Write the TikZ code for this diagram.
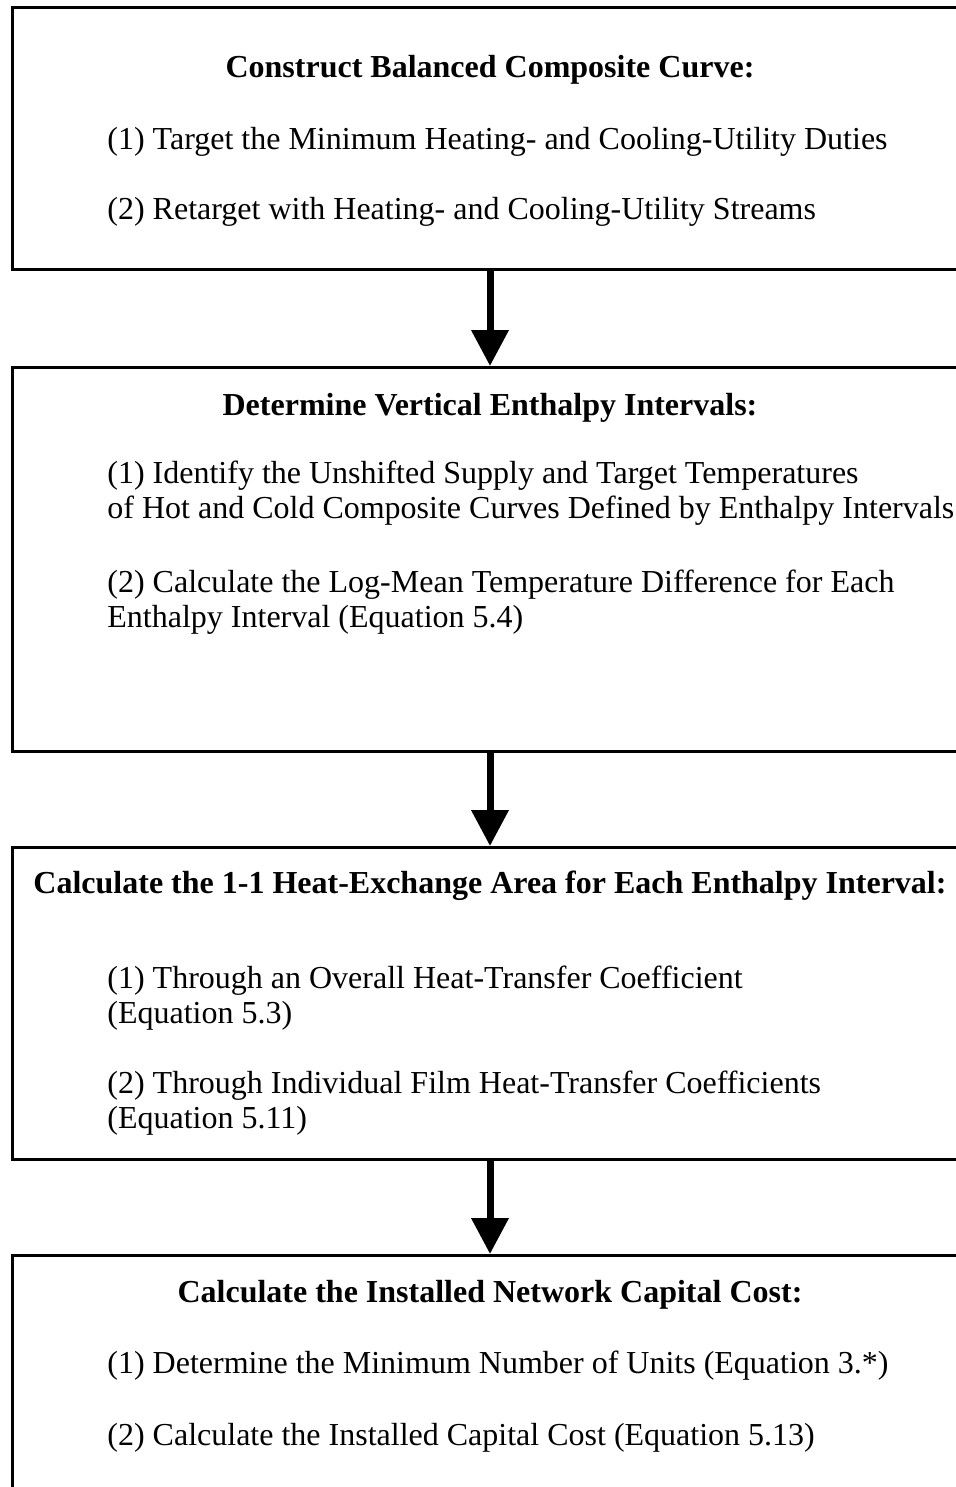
\documentclass[tikz,border=0pt]{standalone}
\usepackage{fontspec}
\setmainfont{Liberation Serif}
\usetikzlibrary{arrows.meta}
\tikzset{
    stagebox/.style={draw, line width=1.5pt, minimum width=477.5pt, inner sep=0pt},
    heading/.style={anchor=base, font=\fontsize{16}{18.4}\selectfont\bfseries, inner sep=0pt},
    item/.style={anchor=base west, font=\fontsize{16}{18.4}\selectfont, inner sep=0pt},
    flow/.style={line width=3.5pt, -{Triangle[length=18pt, width=18pt]}}
}
\begin{document}
\begin{tikzpicture}[x=0.5pt, y=-0.5pt]
        \useasboundingbox (0,0) rectangle (956,1487);
        % Draw the outlines.
        \node[stagebox, minimum height=131pt, anchor=north west] (compose) at (11,6) {};
        \node[stagebox, minimum height=192pt, anchor=north west] (interval) at (11,366) {};
        \node[stagebox, minimum height=156pt, anchor=north west] (area) at (11,846) {};
        \node[stagebox, minimum height=130pt, anchor=north west] (cost) at (11,1254) {};
        % Connect the stages.
        \draw[flow] (compose.south) -- (interval.north);
        \draw[flow] (interval.south) -- (area.north);
        \draw[flow] (area.south) -- (cost.north);
        % Specify the composite curve stage.
        \node[heading] (composetitle) at (490,78) {Construct Balanced Composite Curve:};
        \node[item] (composeone) at (107,150) {(1) Target the Minimum Heating- and Cooling-Utility Duties};
        \node[item] (composetwo) at (107,220) {(2) Retarget with Heating- and Cooling-Utility Streams};
        % Specify the enthalpy interval stage.
        \node[heading] (intervaltitle) at (490,415) {Determine Vertical Enthalpy Intervals:};
        \node[item] (intervalone) at (107,483) {(1) Identify the Unshifted Supply and Target Temperatures};
        \node[item] (intervalonb) at (107,518) {of Hot and Cold Composite Curves Defined by Enthalpy Intervals};
        \node[item] (intervaltwo) at (107,592) {(2) Calculate the Log-Mean Temperature Difference for Each};
        \node[item] (intervaltwb) at (107,627) {Enthalpy Interval (Equation 5.4)};
        % Specify the area stage.
        \node[heading] (areatitle) at (490,893) {Calculate the 1-1 Heat-Exchange Area for Each Enthalpy Interval:};
        \node[item] (areaone) at (107,988) {(1) Through an Overall Heat-Transfer Coefficient};
        \node[item] (areaonb) at (107,1023) {(Equation 5.3)};
        \node[item] (areatwo) at (107,1093) {(2) Through Individual Film Heat-Transfer Coefficients};
        \node[item] (areatwb) at (107,1128) {(Equation 5.11)};
        % Specify the capital cost stage.
        \node[heading] (costtitle) at (490,1302) {Calculate the Installed Network Capital Cost:};
        \node[item] (costone) at (107,1373) {(1) Determine the Minimum Number of Units (Equation 3.*)};
        \node[item] (costtwo) at (107,1445) {(2) Calculate the Installed Capital Cost (Equation 5.13)};
\end{tikzpicture}
\end{document}
